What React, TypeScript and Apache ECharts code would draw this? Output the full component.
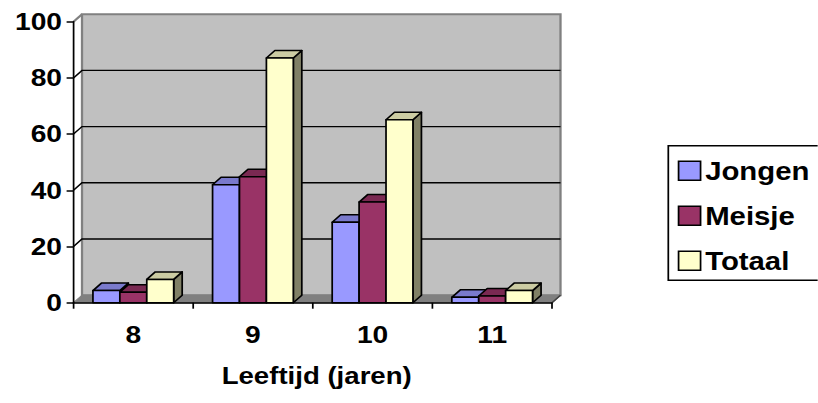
import React, { useEffect, useRef } from "react";
import * as echarts from "echarts";

// Leeftijdsverdeling: aantallen per leeftijd
const CATEGORIES = ["8", "9", "10", "11"];
const JONGEN = [4.3, 42, 28.6, 1.9];
const MEISJE = [3.7, 44.8, 35.8, 2.4];
const TOTAAL = [8.3, 87.1, 65.1, 4.3];
const Y_TICKS = [0, 20, 40, 60, 80, 100];
const SERIES_NAMES = ["Jongen", "Meisje", "Totaal"];

// front / top / side face colours per series
const FACE_COLORS = [
  { front: "#9999FF", top: "#7A7ACC", side: "#4D4D80" },
  { front: "#993366", top: "#7A2952", side: "#4D1A33" },
  { front: "#FFFFCC", top: "#CCCCA3", side: "#808066" },
];

// the drawing is laid out narrow and stretched horizontally
const SX = 1.15;
const W = 818 / SX;
const H = 403;
const px = (x: number) => x / SX;

const DEPTH_X = px(8.5);
const DEPTH_Y = -7.5;
const BAR_FRAC = 0.225;
const FONT = "'Liberation Sans', Arial, Helvetica, sans-serif";

function wallRenderer(params: any, api: any) {
  const cs = params.coordSys;
  const l = cs.x;
  const r = cs.x + cs.width;
  const t = cs.y;
  const b = cs.y + cs.height;
  const children: any[] = [];
  // back wall
  children.push({
    type: "polygon",
    shape: {
      points: [
        [l + DEPTH_X, b + DEPTH_Y],
        [l + DEPTH_X, t + DEPTH_Y],
        [r + DEPTH_X, t + DEPTH_Y],
        [r + DEPTH_X, b + DEPTH_Y],
      ],
    },
    style: { fill: "#C0C0C0", stroke: "#808080", lineWidth: 2 },
  });
  // side wall outline (top edge)
  children.push({
    type: "line",
    shape: { x1: l, y1: t, x2: l + DEPTH_X, y2: t + DEPTH_Y },
    style: { stroke: "#808080", lineWidth: 2 },
  });
  // gridlines across side and back walls
  Y_TICKS.filter((v) => v > 0 && v < 100).forEach((v) => {
    const y = api.coord([0, v])[1];
    children.push({
      type: "polyline",
      shape: {
        points: [
          [l, y],
          [l + DEPTH_X, y + DEPTH_Y],
          [r + DEPTH_X, y + DEPTH_Y],
        ],
      },
      style: { stroke: "#000", lineWidth: 1.4, fill: null },
    });
  });
  // floor
  children.push({
    type: "polygon",
    shape: {
      points: [
        [l, b],
        [l + DEPTH_X, b + DEPTH_Y],
        [r + DEPTH_X, b + DEPTH_Y],
        [r, b],
      ],
    },
    style: { fill: "#808080", stroke: "#808080", lineWidth: 1 },
  });
  children.push({
    type: "line",
    shape: { x1: r, y1: b, x2: r + DEPTH_X, y2: b + DEPTH_Y },
    style: { stroke: "#404040", lineWidth: 1.4 },
  });
  return { type: "group", children };
}

function makeBarRenderer(k: number) {
  const c = FACE_COLORS[k];
  return (params: any, api: any) => {
    const ci = api.value(0);
    const v = api.value(1);
    const base = api.coord([ci, 0]);
    const top = api.coord([ci, v]);
    const cw = api.size([1, 0])[0];
    const bw = cw * BAR_FRAC;
    const x0 = base[0] - 1.5 * bw + k * bw;
    const x1 = x0 + bw;
    const yb = base[1];
    const yt = top[1];
    const stroke = { stroke: "#000", lineWidth: 1.5, lineJoin: "round" };
    return {
      type: "group",
      children: [
        {
          type: "polygon",
          shape: {
            points: [
              [x1, yt],
              [x1 + DEPTH_X, yt + DEPTH_Y],
              [x1 + DEPTH_X, yb + DEPTH_Y],
              [x1, yb],
            ],
          },
          style: { fill: c.side, ...stroke },
        },
        {
          type: "polygon",
          shape: {
            points: [
              [x0, yt],
              [x0 + DEPTH_X, yt + DEPTH_Y],
              [x1 + DEPTH_X, yt + DEPTH_Y],
              [x1, yt],
            ],
          },
          style: { fill: c.top, ...stroke },
        },
        {
          type: "rect",
          shape: { x: x0, y: yt, width: bw, height: yb - yt },
          style: { fill: c.front, ...stroke },
        },
      ],
    };
  };
}

export default function App() {
  const ref = useRef<HTMLDivElement>(null);

  useEffect(() => {
    if (!ref.current) return;
    const chart = echarts.init(ref.current, null, {
      renderer: "svg",
      width: W,
      height: H,
    });
    const valuesBySeries = [JONGEN, MEISJE, TOTAAL];
    const axisText = {
      color: "#000",
      fontFamily: FONT,
      fontWeight: "bold" as const,
      fontSize: 24.5,
      lineHeight: 24,
    };

    chart.setOption({
      animation: false,
      backgroundColor: "#fff",
      grid: {
        left: px(73.5),
        right: W - px(552),
        top: 21.7,
        bottom: H - 302.7,
        containLabel: false,
      },
      xAxis: {
        type: "category",
        data: CATEGORIES,
        z: 5,
        axisLine: { show: true, lineStyle: { color: "#000", width: 1.5 } },
        axisTick: { show: true, length: 6, lineStyle: { color: "#000", width: 1.5 } },
        axisLabel: { ...axisText, margin: 20 },
        splitLine: { show: false },
      },
      yAxis: {
        type: "value",
        min: 0,
        max: 100,
        interval: 20,
        z: 5,
        axisLine: { show: true, lineStyle: { color: "#000", width: 1.5 } },
        axisTick: { show: true, length: 6, lineStyle: { color: "#000", width: 1.5 } },
        axisLabel: { ...axisText, margin: px(11.5) },
        splitLine: { show: false },
      },
      legend: {
        orient: "vertical",
        left: px(668.3),
        top: 145.7,
        padding: [12.1, px(12), 6.5, px(9.4)],
        itemGap: 19,
        itemWidth: px(22),
        itemHeight: 19,
        borderColor: "#000",
        borderWidth: 1.5,
        borderRadius: 0,
        selectedMode: false,
        textStyle: {
          color: "#000",
          fontFamily: FONT,
          fontWeight: "bold",
          fontSize: 25.5,
          lineHeight: 25,
          padding: [0, 0, 0, -1],
        },
        data: SERIES_NAMES.map((name, k) => ({
          name,
          icon: "rect",
          itemStyle: {
            color: FACE_COLORS[k].front,
            borderColor: "#000",
            borderWidth: 1.5,
          },
        })),
      },
      graphic: [
        {
          type: "text",
          x: px(316.7),
          y: 375.5,
          style: {
            text: "Leeftijd (jaren)",
            fill: "#000",
            font: `bold 24px ${FONT}`,
            textAlign: "center",
            textVerticalAlign: "middle",
          },
        },
      ],
      series: [
        {
          type: "custom",
          name: "wand",
          z: 1,
          clip: false,
          silent: true,
          renderItem: wallRenderer,
          data: [[0, 0]],
          encode: { x: 0, y: 1 },
        },
        ...SERIES_NAMES.map((name, k) => ({
          type: "custom",
          name,
          z: 2,
          clip: false,
          itemStyle: { color: FACE_COLORS[k].front },
          renderItem: makeBarRenderer(k),
          data: valuesBySeries[k].map((v, i) => [i, v]),
          encode: { x: 0, y: 1 },
        })),
      ],
    });
    return () => chart.dispose();
  }, []);

  return (
    <div
      style={{
        position: "fixed",
        left: 0,
        top: 0,
        width: 818,
        height: 403,
        overflow: "hidden",
        background: "#fff",
      }}
    >
      <div
        ref={ref}
        style={{
          width: W,
          height: H,
          transform: `scaleX(${SX})`,
          transformOrigin: "0 0",
        }}
      />
    </div>
  );
}
